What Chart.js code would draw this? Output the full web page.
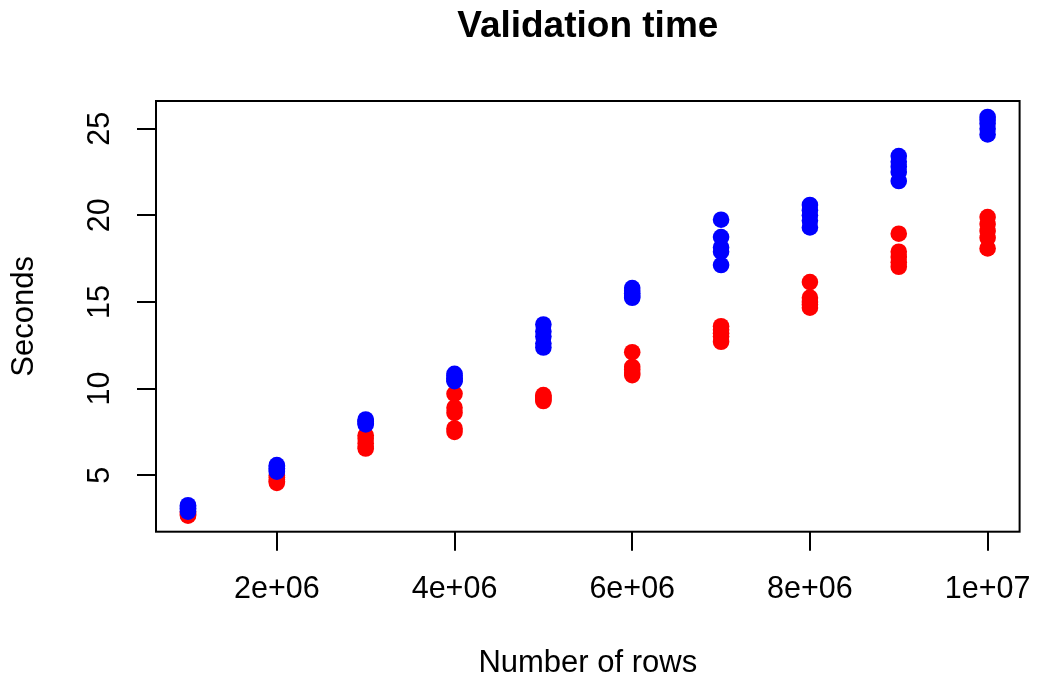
<!DOCTYPE html>
<html>
<head>
<meta charset="utf-8">
<script src="https://cdn.jsdelivr.net/npm/chart.js@4/dist/chart.umd.min.js"></script>
<style>
  html, body { margin: 0; padding: 0; background: #ffffff; }
  #wrap { width: 1037px; height: 684px; }
</style>
</head>
<body>
<div id="wrap"><canvas id="c" width="1037" height="684"></canvas></div>
<script>
const rowCounts = [1000000, 2000000, 3000000, 4000000, 5000000, 6000000, 7000000, 8000000, 9000000, 10000000];
const redSeconds = [
  [2.66, 2.72, 2.78, 2.84, 2.90],
  [4.56, 4.65, 4.75, 4.88, 5.00],
  [6.54, 6.65, 6.85, 7.10, 7.30],
  [7.50, 7.70, 8.60, 8.90, 9.70],
  [9.28, 9.35, 9.45, 9.55, 9.62],
  [10.78, 10.90, 11.10, 11.25, 12.10],
  [12.70, 13.00, 13.20, 13.40, 13.60],
  [14.67, 14.85, 15.00, 15.25, 16.15],
  [17.03, 17.30, 17.60, 17.90, 18.94],
  [18.09, 18.70, 19.10, 19.50, 19.90]
];
const blueSeconds = [
  [2.90, 3.00, 3.10, 3.20, 3.27],
  [5.20, 5.30, 5.40, 5.50, 5.58],
  [7.93, 8.00, 8.10, 8.15, 8.22],
  [10.43, 10.50, 10.60, 10.75, 10.85],
  [12.37, 12.60, 13.00, 13.30, 13.70],
  [15.24, 15.35, 15.50, 15.65, 15.80],
  [17.13, 17.90, 18.15, 18.75, 19.75],
  [19.30, 19.70, 20.00, 20.30, 20.60],
  [21.98, 22.50, 22.80, 23.10, 23.42],
  [24.67, 25.00, 25.30, 25.50, 25.68]
];
const xTickValues = [2000000, 4000000, 6000000, 8000000, 10000000];
const xTickLabels = ['2e+06', '4e+06', '6e+06', '8e+06', '1e+07'];
const yTickValues = [5, 10, 15, 20, 25];
const chartTitle = 'Validation time';
const xTitle = 'Number of rows';
const yTitle = 'Seconds';

function toPoints(groups) {
  const pts = [];
  groups.forEach((vals, i) => vals.forEach(v => pts.push({x: rowCounts[i], y: v})));
  return pts;
}
// R-style axis range: data range extended by 4% on each side
function rRange(vals) {
  const lo = Math.min(...vals), hi = Math.max(...vals);
  const d = (hi - lo) * 0.04;
  return [lo - d, hi + d];
}
const [xMin, xMax] = rRange(rowCounts);
const allY = redSeconds.flat().concat(blueSeconds.flat());
const [yMin, yMax] = rRange(allY);

const FONT = '"Liberation Sans", Arial, Helvetica, sans-serif';

const boxPlugin = {
  id: 'rbox',
  afterDraw(chart) {
    const {ctx, chartArea: a} = chart;
    ctx.save();
    ctx.strokeStyle = '#000000';
    ctx.lineWidth = 2;
    ctx.strokeRect(a.left, a.top, a.right - a.left, a.bottom - a.top);
    ctx.restore();
  }
};

new Chart(document.getElementById('c'), {
  type: 'scatter',
  data: {
    datasets: [
      { label: 'blue', data: toPoints(blueSeconds), backgroundColor: '#0000FF', borderWidth: 0, pointRadius: 8.3, pointHoverRadius: 8.3, order: 0 },
      { label: 'red', data: toPoints(redSeconds), backgroundColor: '#FF0000', borderWidth: 0, pointRadius: 8.3, pointHoverRadius: 8.3, order: 1 }
    ]
  },
  options: {
    responsive: false,
    animation: false,
    devicePixelRatio: 1,
    layout: { padding: { left: 0, right: 17.4, top: 0, bottom: 0 } },
    plugins: {
      legend: { display: false },
      tooltip: { enabled: false },
      title: {
        display: true,
        text: chartTitle,
        fullSize: false,
        color: '#000000',
        font: { family: FONT, size: 37, weight: 'bold', lineHeight: 1.2 },
        padding: { top: 4.4, bottom: 52.2 }
      }
    },
    scales: {
      x: {
        type: 'linear',
        position: 'bottom',
        min: xMin,
        max: xMax,
        afterBuildTicks: (s) => { s.ticks = xTickValues.map(v => ({value: v})); },
        afterFit: (s) => { s.height = 684 - 531.7; s.paddingLeft = 0; s.paddingRight = 0; },
        border: { display: false },
        grid: { display: true, drawOnChartArea: false, drawTicks: true, tickLength: 19, color: '#000000', lineWidth: 2 },
        ticks: {
          autoSkip: false,
          maxRotation: 0,
          minRotation: 0,
          padding: 20.4,
          color: '#000000',
          font: { family: FONT, size: 30.5, lineHeight: 1.2 },
          callback: (v) => { const i = xTickValues.indexOf(v); return i >= 0 ? xTickLabels[i] : ''; }
        },
        title: {
          display: true,
          text: xTitle,
          color: '#000000',
          font: { family: FONT, size: 31, lineHeight: 1.2 },
          padding: { top: 0, bottom: 2.4 }
        }
      },
      y: {
        type: 'linear',
        position: 'left',
        min: yMin,
        max: yMax,
        afterBuildTicks: (s) => { s.ticks = yTickValues.map(v => ({value: v})); },
        afterFit: (s) => { s.width = 156; s.paddingTop = 0; s.paddingBottom = 0; },
        border: { display: false },
        grid: { display: true, drawOnChartArea: false, drawTicks: true, tickLength: 19, color: '#000000', lineWidth: 2 },
        ticks: {
          autoSkip: false,
          minRotation: 90,
          maxRotation: 90,
          crossAlign: 'center',
          padding: 19,
          color: '#000000',
          font: { family: FONT, size: 30.5, lineHeight: 1.2 },
          callback: (v) => String(v)
        },
        title: {
          display: true,
          text: yTitle,
          color: '#000000',
          font: { family: FONT, size: 31, lineHeight: 1.2 },
          padding: { top: 5.8, bottom: 0 }
        }
      }
    }
  },
  plugins: [boxPlugin]
});
</script>
</body>
</html>
